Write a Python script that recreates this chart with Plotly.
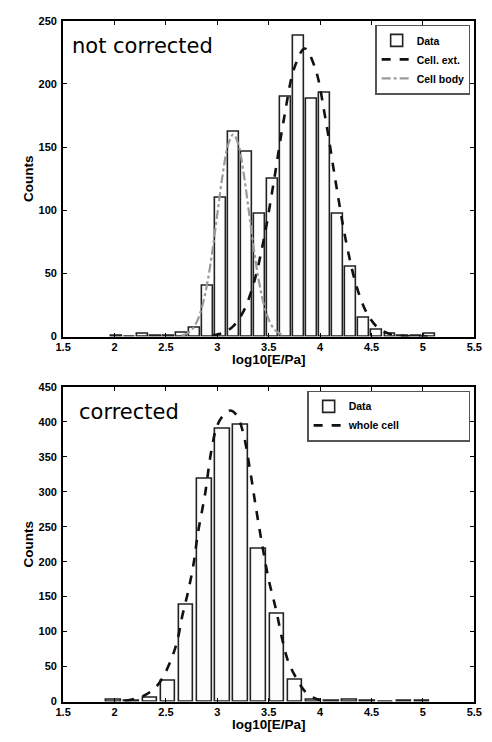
import plotly.graph_objects as go

W, H = 492, 742

# ---------------- data: top panel (not corrected) ----------------
top_bin_centers = [2.020, 2.147, 2.274, 2.400, 2.527, 2.654, 2.780, 2.907, 3.034, 3.161,
                   3.287, 3.414, 3.541, 3.667, 3.794, 3.921, 4.047, 4.174, 4.301, 4.427,
                   4.554, 4.681, 4.807, 4.934, 5.061]
top_counts = [1, 0, 2, 1, 1, 3, 7, 40, 110, 162,
              146, 97, 125, 190, 238, 188, 193, 97, 55, 15,
              5, 2, 1, 1, 2]

cell_ext_x = [2.95, 3.05, 3.15, 3.25, 3.35, 3.45, 3.55, 3.65, 3.75, 3.85,
              3.95, 4.05, 4.15, 4.25, 4.35, 4.45, 4.55, 4.65, 4.75, 4.85, 4.95, 5.05]
cell_ext_y = [0.9, 2.8, 7.9, 19.3, 41.0, 76.1, 123.0, 173.3, 212.9, 228.0,
              212.9, 173.3, 123.0, 76.1, 41.0, 19.3, 7.9, 2.8, 0.9, 0.24, 0.06, 0.0]

cell_body_x = [2.655, 2.705, 2.755, 2.805, 2.855, 2.905, 2.955, 3.005, 3.055, 3.105, 3.155,
               3.205, 3.255, 3.305, 3.355, 3.405, 3.455, 3.505, 3.555, 3.605, 3.655]
cell_body_y = [0.9, 2.4, 5.7, 12.5, 24.6, 43.6, 69.6, 100.2, 129.9, 151.9, 160.0,
               151.9, 129.9, 100.2, 69.6, 43.6, 24.6, 12.5, 5.7, 2.4, 0.9]

# ---------------- data: bottom panel (corrected) ----------------
bot_bin_centers = [1.992, 2.168, 2.345, 2.521, 2.698, 2.874, 3.051, 3.227, 3.404,
                   3.580, 3.757, 3.933, 4.110, 4.286, 4.463, 4.639, 4.816, 4.992]
bot_counts = [2, 1, 5, 30, 139, 319, 390, 396, 219,
              126, 31, 3, 1, 2, 1, 0, 1, 1]

whole_x = [2.10, 2.28, 2.41, 2.50, 2.60, 2.66, 2.72, 2.77, 2.81, 2.88, 2.94, 3.00, 3.07,
           3.13, 3.19, 3.25, 3.32, 3.38, 3.44, 3.50, 3.57, 3.63, 3.69, 3.77, 3.85,
           3.93, 4.00, 4.10]
whole_y = [1, 8, 22, 43, 81, 123, 160, 198, 240, 296, 357, 395, 411,
           416, 409, 385, 329, 273, 221, 174, 132, 90, 57, 33, 15,
           6, 2, 0.5]

x_ticks = [1.5, 2, 2.5, 3, 3.5, 4, 4.5, 5, 5.5]
x_tick_labels = ["1.5", "2", "2.5", "3", "3.5", "4", "4.5", "5", "5.5"]
top_y_ticks = [0, 50, 100, 150, 200, 250]
bot_y_ticks = [0, 50, 100, 150, 200, 250, 300, 350, 400, 450]

# ---------------- layout helpers ----------------
def px(x):
    return x / W

def py(y):
    return 1 - y / H

PL, PR = 57, 482
TOP_T, TOP_B = 15, 336
BOT_T, BOT_B = 387, 707

FAM = "Liberation Sans, Arial, sans-serif"
bold = dict(family=FAM, size=11, color="black", weight="bold")

fig = go.Figure()

bar_style = dict(marker=dict(color="#fdfdfd", line=dict(color="#222", width=1.6)))

fig.add_trace(go.Bar(x=top_bin_centers, y=top_counts, width=0.106, name="Data",
                     xaxis="x", yaxis="y", legend="legend", **bar_style))
fig.add_trace(go.Scatter(x=cell_ext_x, y=cell_ext_y, mode="lines", name="Cell. ext.",
                         line=dict(color="#111", width=2.6, dash="dash", shape="spline"),
                         xaxis="x", yaxis="y", legend="legend"))
fig.add_trace(go.Scatter(x=cell_body_x, y=cell_body_y, mode="lines", name="Cell body",
                         line=dict(color="#9a9a9a", width=2.2, dash="dashdot", shape="spline"),
                         xaxis="x", yaxis="y", legend="legend"))

fig.add_trace(go.Bar(x=bot_bin_centers, y=bot_counts, width=0.142, name="Data",
                     xaxis="x2", yaxis="y2", legend="legend2", **bar_style))
fig.add_trace(go.Scatter(x=whole_x, y=whole_y, mode="lines",
                         name="whole cell" + "&nbsp;" * 22,
                         line=dict(color="#111", width=2.6, dash="dash", shape="spline"),
                         xaxis="x2", yaxis="y2", legend="legend2"))

axis_common = dict(showline=True, linecolor="black", linewidth=2, mirror="ticks",
                   ticks="inside", ticklen=4, tickwidth=1.2, tickcolor="black",
                   showgrid=False, zeroline=False, tickfont=bold)
xaxis_extra = dict(ticklabeloverflow="allow", ticklabelstandoff=-1)
yaxis_extra = dict(ticklabelstandoff=2)

legend_font = dict(family=FAM, size=10.5, color="black", weight="bold")

fig.update_layout(
    width=W, height=H,
    margin=dict(l=0, r=0, t=0, b=0),
    paper_bgcolor="white", plot_bgcolor="white",
    bargap=0,
    xaxis=dict(domain=[px(PL), px(PR)], range=[1.5, 5.5], anchor="y",
               tickvals=x_ticks, ticktext=x_tick_labels, **axis_common, **xaxis_extra),
    yaxis=dict(domain=[py(TOP_B), py(TOP_T)], range=[0, 250], anchor="x",
               tickvals=top_y_ticks, **axis_common, **yaxis_extra),
    xaxis2=dict(domain=[px(PL), px(PR)], range=[1.5, 5.5], anchor="y2",
                tickvals=x_ticks, ticktext=x_tick_labels, **axis_common, **xaxis_extra),
    yaxis2=dict(domain=[py(BOT_B), py(BOT_T)], range=[0, 450], anchor="x2",
                tickvals=bot_y_ticks, **axis_common, **yaxis_extra),
    legend=dict(x=px(478), y=py(19), xanchor="right", yanchor="top",
                bgcolor="white", bordercolor="#555", borderwidth=1.2,
                font=legend_font, tracegroupgap=0, itemwidth=30),
    legend2=dict(x=px(478), y=py(391), xanchor="right", yanchor="top",
                 bgcolor="white", bordercolor="#555", borderwidth=1.2,
                 font=legend_font, tracegroupgap=0, itemwidth=30),
    showlegend=True,
)

title_font = dict(family=FAM, size=13.5, color="black", weight="bold")
label_font = dict(family="DejaVu Sans, sans-serif", size=21, color="black")

annotations = [
    dict(text="not corrected", x=px(64), y=py(41), xref="paper", yref="paper",
         xanchor="left", yanchor="middle", showarrow=False, font=label_font),
    dict(text="corrected", x=px(71), y=py(413), xref="paper", yref="paper",
         xanchor="left", yanchor="middle", showarrow=False, font=label_font),
    dict(text="Counts", x=px(21), y=py((TOP_T + TOP_B) / 2), xref="paper", yref="paper",
         textangle=-90, xanchor="center", yanchor="middle", showarrow=False, font=title_font),
    dict(text="Counts", x=px(21), y=py((BOT_T + BOT_B) / 2), xref="paper", yref="paper",
         textangle=-90, xanchor="center", yanchor="middle", showarrow=False, font=title_font),
    dict(text="log10[E/Pa]", x=px((PL + PR) / 2), y=py(359), xref="paper", yref="paper",
         xanchor="center", yanchor="middle", showarrow=False, font=title_font),
    dict(text="log10[E/Pa]", x=px((PL + PR) / 2), y=py(730), xref="paper", yref="paper",
         xanchor="center", yanchor="middle", showarrow=False, font=title_font),
]
fig.update_layout(annotations=annotations)

fig.write_html("out.html",
               config={"displayModeBar": False},
               post_script="document.body.style.margin='0';document.body.style.padding='0';")
